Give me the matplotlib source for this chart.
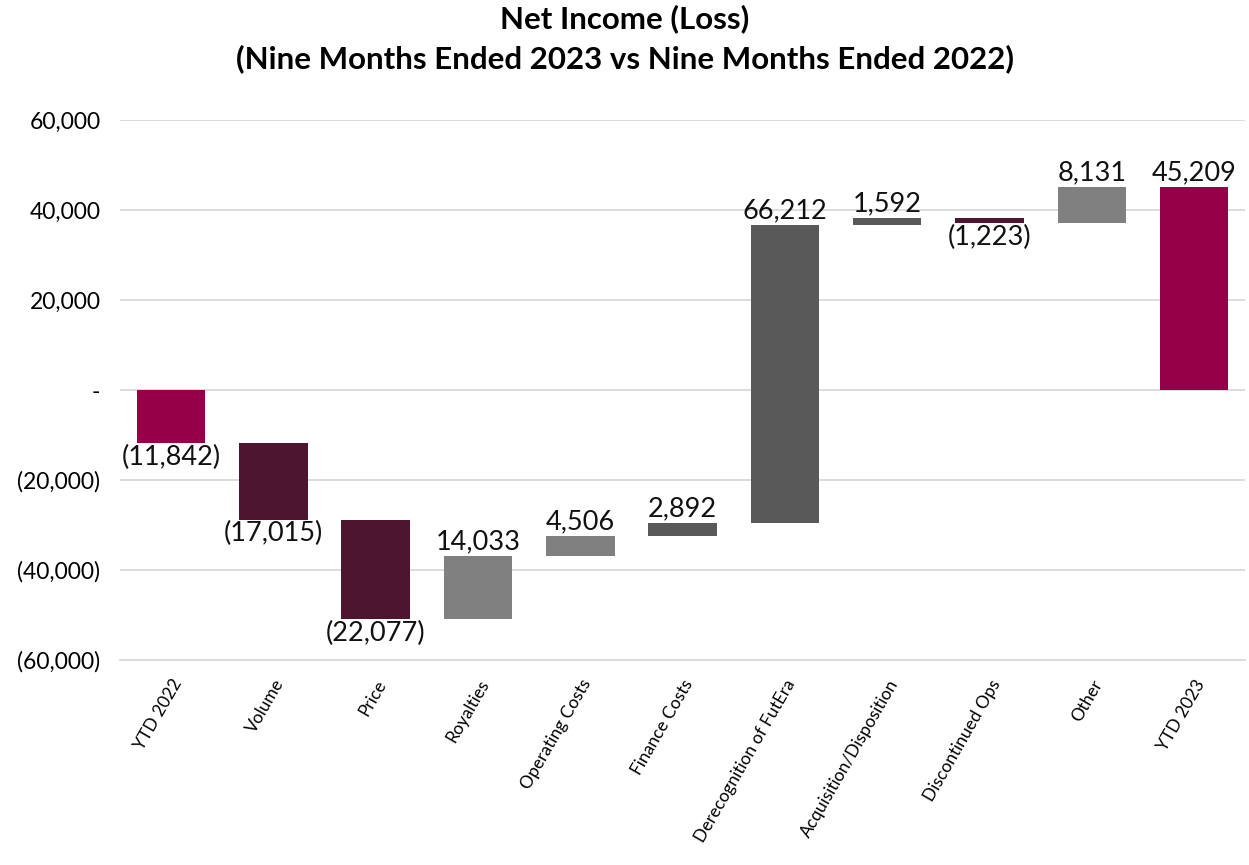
import numpy as np
import matplotlib.pyplot as plt
from matplotlib.ticker import FuncFormatter

plt.rcParams['font.family'] = ['Lato', 'DejaVu Sans']

cats = ["YTD 2022", "Volume", "Price", "Royalties", "Operating Costs", "Finance Costs",
        "Derecognition of FutEra", "Acquisition/Disposition", "Discontinued Ops", "Other", "YTD 2023"]
vals = [-11842, -17015, -22077, 14033, 4506, 2892, 66212, 1592, -1223, 8131, 45209]
is_total = [True, False, False, False, False, False, False, False, False, False, True]
cols = ["#960048", "#4E1530", "#4E1530", "#808080", "#808080", "#595959",
        "#595959", "#595959", "#4E1530", "#808080", "#960048"]

def fmt(v):
    if v < 0:
        return "({:,.0f})".format(-v)
    return "{:,.0f}".format(v)

x = np.arange(len(cats))
bottoms = []
run = 0
for v, t in zip(vals, is_total):
    if t:
        bottoms.append(0)
        run = v
    else:
        bottoms.append(run)
        run += v

fig = plt.figure(figsize=(12.49, 8.65), dpi=100)
ax = fig.add_axes([0.096, 0.237, 0.901, 0.624])

ax.bar(x, vals, bottom=bottoms, width=0.67, color=cols, zorder=3)

for i in range(len(x)):
    b = bottoms[i]
    v = vals[i]
    top = max(b, b + v)
    low = min(b, b + v)
    if v >= 0:
        ax.annotate(fmt(v), (x[i], top), xytext=(0, 1), textcoords="offset points",
                    ha="center", va="bottom", fontsize=19.5, color="#111111")
    else:
        ax.annotate(fmt(v), (x[i], low), xytext=(0, -1), textcoords="offset points",
                    ha="center", va="top", fontsize=19.5, color="#111111")

ax.set_xlim(-0.5, len(cats) - 0.5)
ax.set_ylim(-60000, 60000)
ax.set_yticks(np.arange(-60000, 60001, 20000))

def yfmt(v, pos):
    if v == 0:
        return "-"
    return fmt(v)

ax.yaxis.set_major_formatter(FuncFormatter(yfmt))
ax.tick_params(axis="y", labelsize=16.5, length=0, pad=14)
ax.set_xticks(x)
ax.set_xticklabels(cats, rotation=60, ha="right", rotation_mode="anchor", fontsize=12.5)
ax.tick_params(axis="x", length=0, pad=12)

ax.grid(axis="y", color="#D9D9D9", linewidth=1.3, zorder=0)
for s in ["left", "right", "top"]:
    ax.spines[s].set_visible(False)
ax.spines["bottom"].set_color("#D9D9D9")
ax.spines["bottom"].set_linewidth(1.3)

fig.suptitle("Net Income (Loss)\n(Nine Months Ended 2023 vs Nine Months Ended 2022)",
             fontsize=22.5, fontweight="bold", y=0.995, linespacing=1.45)

fig.savefig("out.png", dpi=100)
